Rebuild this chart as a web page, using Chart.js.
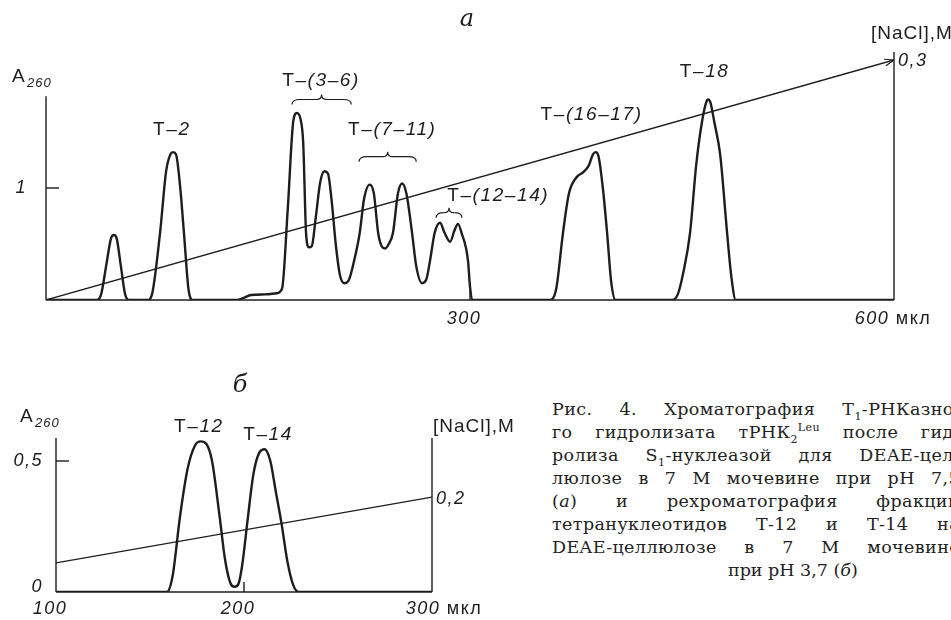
<!DOCTYPE html>
<html>
<head>
<meta charset="utf-8">
<script src="https://cdn.jsdelivr.net/npm/chart.js@4.4.1/dist/chart.umd.min.js"></script>
<style>
  body { margin: 0; width: 951px; height: 620px; overflow: hidden; background: #fff; position: relative; }
  #wrapA { position: absolute; left: 0; top: 0; }
  #wrapB { position: absolute; left: 0; top: 340px; }
  #caption { position: absolute; left: 552px; top: 398px; font: 17.5px "DejaVu Serif", serif; color: #222; line-height: 23px; letter-spacing: 0.4px; }
  #caption div { width: 408px; height: 23px; overflow: hidden; text-align: justify; text-align-last: justify; }
  #caption sub, #caption sup { font-size: 11px; line-height: 0; }
  #caption .last { text-align: left; text-align-last: left; padding-left: 176px; width: 230px; letter-spacing: 0; }
</style>
</head>
<body>
<div id="wrapA"><canvas id="chartA" width="951" height="335"></canvas></div>
<div id="wrapB"><canvas id="chartB" width="530" height="280"></canvas></div>
<div id="caption">
  <div>Рис. 4. Хроматография T<sub>1</sub>-РНКазно-</div>
  <div>го гидролизата тРНК<sub>2</sub><sup>Leu</sup> после гид-</div>
  <div>ролиза S<sub>1</sub>-нуклеазой для DEAE-цел-</div>
  <div>люлозе в 7 М мочевине при pH 7,5</div>
  <div>(<i>а</i>) и рехроматография фракции</div>
  <div>тетрануклеотидов Т-12 и Т-14 на</div>
  <div>DEAE-целлюлозе в 7 М мочевине</div>
  <div class="last">при pH 3,7 (<i>б</i>)</div>
</div>
<script>
// --- данные, рис. а ---
const volA = [0, 36, 39, 42.5, 46, 48, 50, 53, 56, 59,
  72, 75, 80.7, 85, 88, 90, 92, 95, 97.6, 101, 104,
  135, 140, 145, 155, 163, 167, 171, 175, 177.5, 180, 182, 184, 186, 188, 191, 194, 197, 199.5, 202, 205, 208, 211, 214,
  218, 222, 225, 229, 232, 235, 237.5, 240, 242.5, 245.5, 249, 252, 255, 259, 262, 266, 269,
  271.7, 275, 278.8, 282, 285.9, 289, 291.5, 294, 298.6, 300, 302,
  357, 361, 365.8, 370, 375.7, 380, 384, 387, 389, 391, 394, 397, 400, 403,
  443, 447, 451, 455.7, 460, 464, 467, 468.4, 470, 473, 477, 481.9, 485, 488, 600];
const absA = [0, 0, 0.05, 0.3, 0.55, 0.58, 0.55, 0.3, 0.05, 0,
  0, 0.05, 0.6, 1.15, 1.3, 1.32, 1.3, 1.0, 0.6, 0.08, 0,
  0, 0.02, 0.045, 0.05, 0.06, 0.1, 0.8, 1.6, 1.67, 1.62, 1.4, 0.6, 0.47, 0.48, 0.75, 1.05, 1.15, 1.13, 0.9, 0.5, 0.22, 0.15, 0.17,
  0.35, 0.6, 0.9, 1.03, 0.95, 0.6, 0.48, 0.46, 0.5, 0.6, 0.95, 1.04, 0.95, 0.6, 0.3, 0.15, 0.18,
  0.35, 0.6, 0.69, 0.6, 0.52, 0.62, 0.68, 0.6, 0.35, 0.12, 0,
  0, 0.1, 0.6, 0.95, 1.1, 1.14, 1.2, 1.3, 1.32, 1.28, 1.0, 0.6, 0.15, 0,
  0, 0.05, 0.25, 0.6, 1.2, 1.58, 1.76, 1.79, 1.77, 1.58, 1.3, 0.6, 0.2, 0, 0];
const naclVolA = [0, 600];
const naclA = [0, 0.3];

const labelTextA = ['T–2', 'T–(3–6)', 'T–(7–11)', 'T–(12–14)', 'T–(16–17)', 'T–18'];
const labelVolA = [89, 194.6, 245, 320, 386, 466];
const labelAbsA = [1.52, 1.96, 1.52, 0.93, 1.65, 2.04];
const braceFromA = [174, 221.5, 276];
const braceToA = [216, 262, 294.3];
const braceAbsA = [1.79, 1.28, 0.78];

const xTicksA = [300, 600];
const xTickLabelsA = ['300', '600 мкл'];
const yTicksA = [1];
const yTickLabelsA = ['1'];
const y2TicksA = [0.3];
const y2TickLabelsA = ['0,3'];

// --- данные, рис. б ---
const volB = [100, 159, 162, 166, 170, 174, 177, 180, 183, 187, 190, 193, 195,
  197, 199, 202, 205, 208, 211, 214, 217, 220, 223, 226, 229, 300];
const absB = [0, 0, 0.06, 0.29, 0.47, 0.56, 0.575, 0.565, 0.5, 0.29, 0.12, 0.03, 0.02,
  0.03, 0.1, 0.28, 0.45, 0.53, 0.545, 0.5, 0.38, 0.26, 0.12, 0.03, 0, 0];
const naclVolB = [100, 300];
const naclB = [0.062, 0.202];

const labelTextB = ['T–12', 'T–14'];
const labelVolB = [176, 212.8];
const labelAbsB = [0.63, 0.6];

const xTicksB = [100, 200, 300];
const xTickLabelsB = ['100', '200', '300 мкл'];
const yTicksB = [0, 0.5];
const yTickLabelsB = ['0', '0,5'];
const y2TicksB = [0.2];
const y2TickLabelsB = ['0,2'];

const ink = '#1d1d1d';

function pts(xs, ys) {
    return xs.map((v, i) => ({ x: v, y: ys[i] }));
}

function seg(ctx, x1, y1, x2, y2) {
    ctx.beginPath();
    ctx.moveTo(x1, y1);
    ctx.lineTo(x2, y2);
    ctx.stroke();
}

// текст: число курсивом, "T–" и единицы прямым
function mixed(ctx, parts, x, y, align, size, sp) {
    ctx.letterSpacing = (sp || 0) + 'px';
    let total = 0;
    parts.forEach(p => {
        ctx.font = (p.it ? 'italic ' : '') + size + 'px "Liberation Sans", sans-serif';
        p.w = ctx.measureText(p.t).width;
        total += p.w;
    });
    let cx = align == 'center' ? x - total / 2 : (align == 'right' ? x - total : x);
    ctx.textAlign = 'left';
    ctx.textBaseline = 'middle';
    parts.forEach(p => {
        ctx.font = (p.it ? 'italic ' : '') + size + 'px "Liberation Sans", sans-serif';
        ctx.fillText(p.t, cx, y);
        cx += p.w;
    });
    ctx.letterSpacing = '0px';
}

function peakLabel(ctx, text, x, y) {
    mixed(ctx, [{ t: text.slice(0, 2), it: false }, { t: text.slice(2), it: true }], x, y, 'center', 19, 1.6);
}

function unitLabel(ctx, text, x, y, align) {
    const sp = text.indexOf(' ');
    if (sp < 0) return mixed(ctx, [{ t: text, it: true }], x, y, align, 18, 1.5);
    mixed(ctx, [{ t: text.slice(0, sp), it: true }, { t: text.slice(sp), it: false }], x, y, align, 18, 1.5);
}

function brace(ctx, x1, x2, y) {
    const h = 5, m = (x1 + x2) / 2;
    ctx.beginPath();
    ctx.moveTo(x1, y + 5);
    ctx.quadraticCurveTo(x1, y, x1 + 8, y);
    ctx.lineTo(m - h, y);
    ctx.quadraticCurveTo(m, y, m, y - h);
    ctx.quadraticCurveTo(m, y, m + h, y);
    ctx.lineTo(x2 - 8, y);
    ctx.quadraticCurveTo(x2, y, x2, y + 5);
    ctx.stroke();
}

function axisTitles(ctx, ax, ay, nx, ny) {
    ctx.textAlign = 'left';
    ctx.textBaseline = 'middle';
    ctx.font = '19px "Liberation Sans", sans-serif';
    ctx.fillText('A', ax, ay);
    ctx.letterSpacing = '1px';
    ctx.font = 'italic 13px "Liberation Sans", sans-serif';
    ctx.fillText('260', ax + 15, ay + 6);
    ctx.font = '19px "Liberation Sans", sans-serif';
    ctx.fillText('[NaCl],M', nx, ny);
    ctx.letterSpacing = '0px';
}

function decor(spec) {
    return {
        id: 'decor' + spec.name,
        afterDatasetsDraw(chart) {
            const ctx = chart.ctx;
            const x = chart.scales.x, y = chart.scales.y, y2 = chart.scales.y2;
            const x0 = x.getPixelForValue(x.min), x1 = x.getPixelForValue(x.max);
            const yb = y.getPixelForValue(0);
            ctx.save();
            ctx.strokeStyle = ink;
            ctx.fillStyle = ink;
            ctx.lineWidth = 1.4;
            // оси
            seg(ctx, x0, yb, x1, yb);
            seg(ctx, x0, yb, x0, y.getPixelForValue(spec.leftTop));
            seg(ctx, x1, yb, x1, y2.getPixelForValue(y2.max));
            // деления
            spec.yTicks.forEach((v, i) => {
                const py = y.getPixelForValue(v);
                if (v > 0) seg(ctx, x0, py, x0 + 13, py);
                unitLabel(ctx, spec.yLabels[i], x0 - spec.yPad, py - (v == 0 ? 5 : 0), 'right');
            });
            spec.y2Ticks.forEach((v, i) => {
                const py = y2.getPixelForValue(v);
                unitLabel(ctx, spec.y2Labels[i], x1 + 4, py + 1, 'left');
            });
            spec.xTicks.forEach((v, i) => {
                const px = x.getPixelForValue(v);
                if (v != x.min && v != x.max) seg(ctx, px, yb, px, yb - 10);
                const shift = i == spec.xTicks.length - 1 ? spec.lastShift : -6;
                unitLabel(ctx, spec.xLabels[i], px + shift, yb + spec.xPad, 'center');
            });
            // стрелка на конце градиента
            if (spec.arrow) {
                const d = chart.getDatasetMeta(1).data;
                const a = d[d.length - 1], b = d[d.length - 2];
                const ang = Math.atan2(a.y - b.y, a.x - b.x);
                ctx.lineWidth = 1.2;
                [0.35, -0.35].forEach(s => {
                    seg(ctx, a.x, a.y, a.x - 10 * Math.cos(ang + s), a.y - 10 * Math.sin(ang + s));
                });
            }
            // подписи пиков
            spec.labels.forEach((t, i) => {
                peakLabel(ctx, t, x.getPixelForValue(spec.labelX[i]), y.getPixelForValue(spec.labelY[i]));
            });
            ctx.lineWidth = 1.2;
            (spec.braceFrom || []).forEach((v, i) => {
                brace(ctx, x.getPixelForValue(v), x.getPixelForValue(spec.braceTo[i]), y.getPixelForValue(spec.braceY[i]));
            });
            axisTitles(ctx, spec.aX, spec.aY, spec.nX, spec.nY);
            ctx.textAlign = 'center';
            ctx.textBaseline = 'middle';
            ctx.font = 'italic 24px "DejaVu Serif", serif';
            ctx.fillText(spec.title, spec.tX, spec.tY);
            ctx.restore();
        }
    };
}

function build(id, trace, nacl, pad, xr, yMax, y2Max, plugin) {
    return new Chart(document.getElementById(id), {
        type: 'line',
        data: {
            datasets: [{
                data: trace,
                borderColor: ink,
                borderWidth: 2.4,
                pointRadius: 0,
                cubicInterpolationMode: 'monotone',
                yAxisID: 'y'
            }, {
                data: nacl,
                borderColor: ink,
                borderWidth: 1.3,
                pointRadius: 0,
                tension: 0,
                yAxisID: 'y2'
            }]
        },
        options: {
            responsive: false,
            animation: false,
            layout: { padding: pad },
            plugins: { legend: { display: false }, tooltip: { enabled: false } },
            scales: {
                x: { type: 'linear', min: xr[0], max: xr[1], display: false },
                y: { min: 0, max: yMax, display: false },
                y2: { position: 'right', min: 0, max: y2Max, display: false }
            }
        },
        plugins: [plugin]
    });
}

// рис. а: ось x 46..894, A=0 на 300, A=1 на 188
build('chartA', pts(volA, absA), pts(naclVolA, naclA),
    { left: 46, right: 57, top: 52, bottom: 35 }, [0, 600], 248 / 112, 0.31,
    decor({
        name: 'A', leftTop: 1.82,
        yTicks: yTicksA, yLabels: yTickLabelsA, yPad: 19,
        y2Ticks: y2TicksA, y2Labels: y2TickLabelsA,
        xTicks: xTicksA, xLabels: xTickLabelsA, xPad: 19, lastShift: -1,
        arrow: true,
        labels: labelTextA, labelX: labelVolA, labelY: labelAbsA,
        braceFrom: braceFromA, braceTo: braceToA, braceY: braceAbsA,
        aX: 12, aY: 77, nX: 871, nY: 34, title: 'a', tX: 467, tY: 20
    }));

// рис. б: ось x 56..432, A=0 на 252, A=0,5 на 121
build('chartB', pts(volB, absB), pts(naclVolB, naclB),
    { left: 56, right: 98, top: 98, bottom: 28 }, [100, 300], 154 / 262, 154 / 470,
    decor({
        name: 'B', leftTop: 154 / 262,
        yTicks: yTicksB, yLabels: yTickLabelsB, yPad: 13,
        y2Ticks: y2TicksB, y2Labels: y2TickLabelsB,
        xTicks: xTicksB, xLabels: xTickLabelsB, xPad: 17, lastShift: 12,
        arrow: false,
        labels: labelTextB, labelX: labelVolB, labelY: labelAbsB,
        aX: 20, aY: 77, nX: 433, nY: 87, title: 'б', tX: 240, tY: 46
    }));
</script>
</body>
</html>
